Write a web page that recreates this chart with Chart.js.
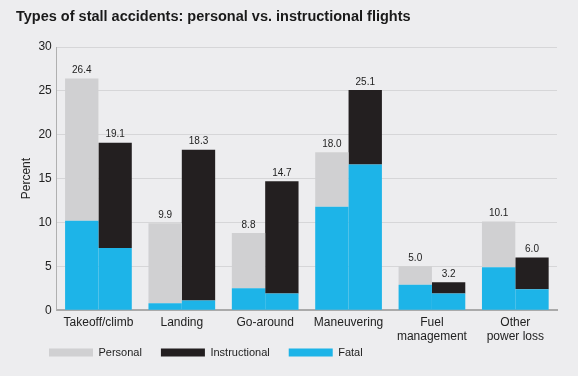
<!DOCTYPE html>
<html>
<head>
<meta charset="utf-8">
<script src="https://cdn.jsdelivr.net/npm/chart.js@4"></script>
<style>
  html, body { margin: 0; padding: 0; background: #ededef; }
  #wrap { position: relative; width: 578px; height: 376px; }
  #title {
    position: absolute; left: 16px; top: 8px;
    font: bold 14.5px "Liberation Sans", Arial, sans-serif; color: #1a1a1a;
  }
</style>
</head>
<body>
<div id="wrap">
  <div id="title">Types of stall accidents: personal vs. instructional flights</div>
  <canvas id="stallChart" width="578" height="376"></canvas>
</div>
<script>
const categories = ["Takeoff/climb", "Landing", "Go-around", "Maneuvering", ["Fuel", "management"], ["Other", "power loss"]]
const personalTotal = [26.4, 9.9, 8.8, 18.0, 5.0, 10.1]
const personalFatal = [10.2, 0.8, 2.5, 11.8, 2.9, 4.9]
const instructionalTotal = [19.1, 18.3, 14.7, 25.1, 3.2, 6.0]
const instructionalFatal = [7.1, 1.1, 1.9, 16.6, 1.9, 2.4]
const yTicks = [0, 5, 10, 15, 20, 25, 30]

const GRAY = '#d0d0d2'
const BLACK = '#231f20'
const BLUE = '#1db4e8'
const FONT = "'Liberation Sans', Arial, sans-serif"

const rest = (tot, fat) => tot.map((v, i) => +(v - fat[i]).toFixed(1))

// totals written above each bar
const totalLabels = {
  id: 'totalLabels',
  afterDatasetsDraw(chart) {
    const ctx = chart.ctx
    ctx.save()
    ctx.font = '10px ' + FONT
    ctx.fillStyle = '#222'
    ctx.textAlign = 'center'
    ctx.textBaseline = 'bottom'
    const pairs = [[2, personalTotal], [3, instructionalTotal]]
    pairs.forEach(([idx, totals]) => {
      chart.getDatasetMeta(idx).data.forEach((bar, i) => {
        ctx.fillText(totals[i].toFixed(1), bar.x, bar.y - 3)
      })
    })
    ctx.restore()
  }
}

// pull the legend closer to the axis labels and indent it
const legendNudge = {
  id: 'legendNudge',
  afterInit(chart) {
    const fit = chart.legend.fit
    chart.legend.fit = function () { fit.call(this); this.height -= 17 }
  },
  afterLayout(chart) {
    const lg = chart.legend
    lg.top -= 21
    lg.left += 11
  }
}

const legendRank = { Personal: 0, Instructional: 1, Fatal: 2 }

new Chart(document.getElementById('stallChart'), {
  type: 'bar',
  data: {
    labels: categories,
    datasets: [
      { label: 'Fatal', data: personalFatal, backgroundColor: BLUE, stack: 'p' },
      { label: 'Fatal2', data: instructionalFatal, backgroundColor: BLUE, stack: 'i' },
      { label: 'Personal', data: rest(personalTotal, personalFatal), backgroundColor: GRAY, stack: 'p' },
      { label: 'Instructional', data: rest(instructionalTotal, instructionalFatal), backgroundColor: BLACK, stack: 'i' }
    ]
  },
  options: {
    responsive: false,
    animation: false,
    categoryPercentage: 0.8,
    barPercentage: 1,
    layout: { padding: { top: 47, left: 19, right: 21, bottom: 4 } },
    plugins: {
      title: { display: false },
      tooltip: { enabled: false },
      legend: {
        position: 'bottom',
        align: 'start',
        labels: {
          boxWidth: 44,
          boxHeight: 8,
          padding: 19,
          color: '#222',
          font: { family: FONT, size: 11 },
          filter: item => item.text !== 'Fatal2',
          sort: (a, b) => legendRank[a.text] - legendRank[b.text]
        }
      }
    },
    scales: {
      x: {
        stacked: true,
        grid: { display: false, drawTicks: false },
        border: { color: '#aaaaaa', width: 2 },
        ticks: { color: '#222', font: { family: FONT, size: 12 }, padding: 5, maxRotation: 0, autoSkip: false }
      },
      y: {
        stacked: true,
        min: 0,
        max: 30,
        afterBuildTicks: axis => { axis.ticks = yTicks.map(v => ({ value: v })) },
        grid: { color: '#d6d6d8', drawTicks: false },
        border: { color: '#b0b0b0', width: 1 },
        ticks: { color: '#222', font: { family: FONT, size: 12 }, padding: 5 },
        title: { display: true, text: 'Percent', color: '#222', font: { family: FONT, size: 12 }, padding: 0 }
      }
    }
  },
  plugins: [totalLabels, legendNudge]
})
</script>
</body>
</html>
